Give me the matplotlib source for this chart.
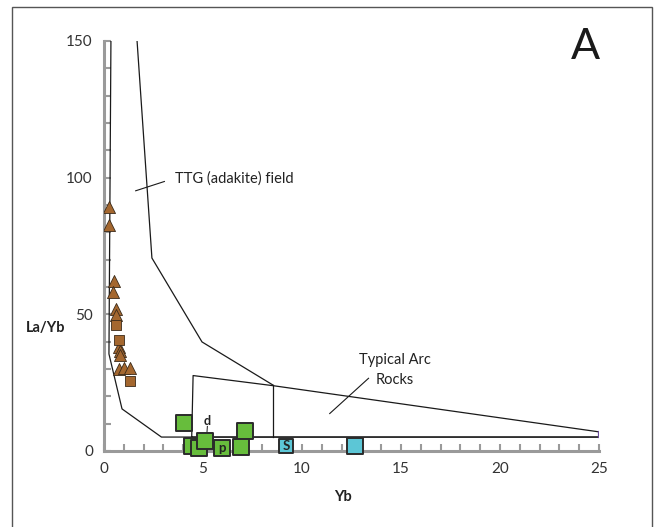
import matplotlib.pyplot as plt
from matplotlib.patches import Rectangle
from matplotlib.ticker import MultipleLocator

plt.rcParams['font.family'] = ['Lato', 'DejaVu Sans']

# field boundaries (Yb, La/Yb)
ttg_left_x = [0.35, 0.25, 0.91, 2.9, 25.0]
ttg_left_y = [150, 35.5, 15.4, 5.1, 5.1]
ttg_right_x = [1.67, 2.42, 4.95, 8.54]
ttg_right_y = [150, 70.6, 39.9, 24.1]
arc_x = [4.43, 4.5, 8.54, 25.0, 25.0, 4.43]
arc_y = [5.1, 27.6, 23.9, 7.0, 5.1, 5.1]
arc_wall_x = [8.54, 8.54]
arc_wall_y = [24.1, 5.1]

# samples
tri_x = [0.27, 0.27, 0.52, 0.45, 0.59, 0.59, 0.77, 0.79, 0.80, 0.77, 1.03, 1.33]
tri_y = [89.4, 82.7, 62.3, 58.3, 51.8, 49.8, 38.2, 36.6, 35.2, 29.9, 30.3, 30.5]
brsq_x = [0.59, 0.76, 1.30]
brsq_y = [46.1, 40.6, 25.7]
green_x = [4.06, 7.12, 4.46, 4.81, 5.08, 5.98, 6.92]
green_y = [10.1, 7.4, 1.9, 1.0, 3.7, 1.2, 1.5]
cyan_x = [9.19, 12.7]
cyan_y = [1.9, 1.9]

fig = plt.figure(figsize=(6.54, 5.27), dpi=100)
ax = fig.add_axes([104 / 654, 1 - 451 / 527, 495 / 654, 410 / 527])

edge = '#2b2b2b'
ax.plot(ttg_left_x, ttg_left_y, color='#1a1a1a', lw=0.9)
ax.plot(ttg_right_x, ttg_right_y, color='#1a1a1a', lw=0.9)
ax.plot(arc_x, arc_y, color='#1a1a1a', lw=0.9)
ax.plot(arc_wall_x, arc_wall_y, color='#1a1a1a', lw=0.9)
ax.plot([25, 25], [5.1, 7.0], color='#6a4c9c', lw=1.6)

# leader lines
ax.plot([1.6, 3.05], [95.2, 98.6], color='#1a1a1a', lw=0.8)
ax.plot([13.36, 11.4], [26.6, 13.7], color='#1a1a1a', lw=0.8)
ax.plot([5.22, 5.18], [9.0, 4.5], color='#1a1a1a', lw=0.7)

ax.scatter(tri_x, tri_y, marker='^', s=75, color='#a4672f', edgecolor='#3a2a1a',
           linewidth=0.6, zorder=3)
ax.scatter(brsq_x, brsq_y, marker='s', s=48, color='#a4672f', edgecolor='#3a2a1a',
           linewidth=0.6, zorder=3)
ax.scatter(green_x, green_y, marker='s', s=130, color='#67bd3c', edgecolor=edge,
           linewidth=1.4, zorder=3, clip_on=False)
ax.scatter(cyan_x[:1], cyan_y[:1], marker='s', s=100, color='#5cc6d6', edgecolor=edge,
           linewidth=1.4, zorder=3, clip_on=False)
ax.scatter(cyan_x[1:], cyan_y[1:], marker='s', s=130, color='#5cc6d6', edgecolor=edge,
           linewidth=1.4, zorder=3, clip_on=False)

ax.text(5.98, 1.2, 'p', ha='center', va='center', fontsize=9.5, fontweight='bold',
        color='#222222', zorder=4)
ax.text(9.19, 1.9, 'S', ha='center', va='center', fontsize=9.5, fontweight='bold',
        color='#222222', zorder=4)
ax.text(5.2, 10.9, 'd', ha='center', va='center', fontsize=9, fontweight='bold',
        color='#222222')

ax.text(3.6, 99.5, 'TTG (adakite) field', ha='left', va='center', fontsize=10.5,
        color='#222222')
ax.text(14.7, 29.6, 'Typical Arc\nRocks', ha='center', va='center', fontsize=10.5,
        color='#222222', linespacing=1.5)

ax.set_xlim(0, 25)
ax.set_ylim(0, 150)
ax.xaxis.set_major_locator(MultipleLocator(5))
ax.xaxis.set_minor_locator(MultipleLocator(1))
ax.yaxis.set_major_locator(MultipleLocator(50))
ax.yaxis.set_minor_locator(MultipleLocator(10))

for s in ['top', 'right']:
    ax.spines[s].set_visible(False)
for s in ['left', 'bottom']:
    ax.spines[s].set_color('#9a9a9a')
    ax.spines[s].set_linewidth(2.2)

ax.tick_params(which='both', direction='in', color='#9a9a9a', width=1.5, length=5,
               labelsize=11, labelcolor='#333333')
ax.tick_params(axis='x', pad=8)
ax.tick_params(axis='y', pad=8)
ax.set_facecolor('none')

fig.text(46 / 654, 1 - 328 / 527, 'La/Yb', ha='center', va='center', fontsize=10.5,
         fontweight='bold', color='#222222')
fig.text(343 / 654, 1 - 497 / 527, 'Yb', ha='center', va='center', fontsize=10.5,
         fontweight='bold', color='#222222')
fig.text(585 / 654, 1 - 47 / 527, 'A', ha='center', va='center', fontsize=31,
         color='#1a1a1a')

fig.patches.append(Rectangle((12 / 654, -0.05), 640 / 654, 1.05 - 7 / 527,
                             transform=fig.transFigure, fill=False,
                             edgecolor='#555555', lw=1.0))

fig.savefig('out.png', dpi=100)
